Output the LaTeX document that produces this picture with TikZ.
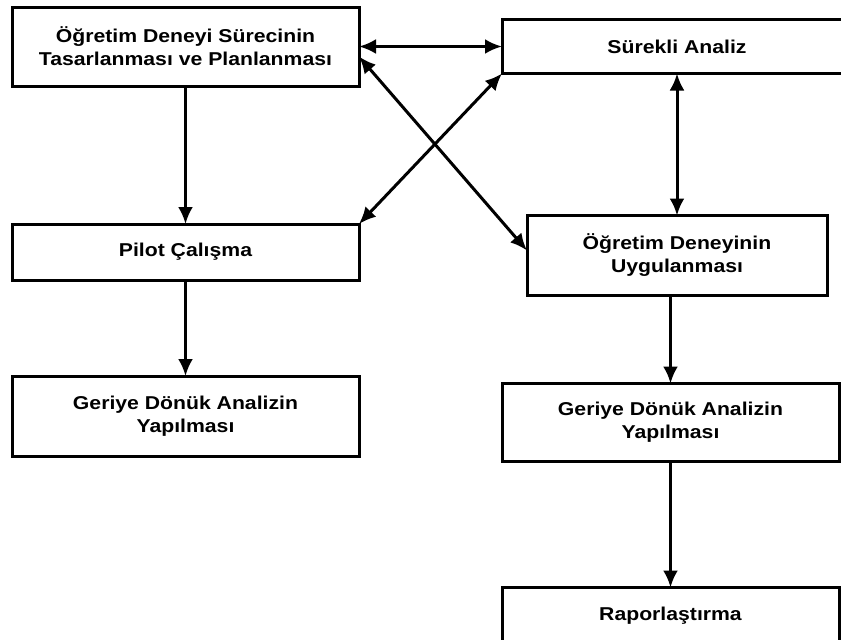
\documentclass[tikz,border=0pt]{standalone}
\usepackage{fontspec}
\newfontfamily\boxfont{Liberation Sans}[FakeStretch=1.14]
\usetikzlibrary{arrows.meta,positioning}

\begin{document}
\begin{tikzpicture}[x=1pt, y=-1pt,
                    box/.style={draw, rectangle, line width=3pt, minimum width=347pt,
                                minimum height=56pt, inner sep=0pt, outer sep=0pt, align=center,
                                font=\boxfont\bfseries\fontsize{18.6}{23}\selectfont},
                    line/.style={draw, line width=3pt, -{Latex[length=17pt,width=15pt]}},
                    both/.style={line, {Latex[length=17pt,width=15pt]}-{Latex[length=17pt,width=15pt]}}]
    \useasboundingbox (0,0) rectangle (841,640);

    % Nodes
    \node [box, minimum height=79pt] at (185.5,46.5)           (plan)     {Öğretim Deneyi Sürecinin\\Tasarlanması ve Planlanması};
    \node [box, minimum width=350pt, minimum height=54pt,
           right=143pt of plan]                                (analiz)   {Sürekli Analiz};
    \node [box, below=138pt of plan]                           (pilot)    {Pilot Çalışma};
    \node [box, minimum height=80pt, below=96pt of pilot]      (geriye1)  {Geriye Dönük Analizin\\Yapılması};
    \node [box, minimum width=300pt, minimum height=80pt,
           below=142pt of analiz]                              (uygulama) {Öğretim Deneyinin\\Uygulanması};
    \node [box, minimum width=337pt, minimum height=78pt,
           below=88pt of uygulama, xshift=-6.5pt]              (geriye2)  {Geriye Dönük Analizin\\Yapılması};
    \node [box, minimum width=337pt, below=126pt of geriye2]   (rapor)    {Raporlaştırma};

    % Paths
    \path [both] (plan.east) -- (analiz.west);
    \path [both] (analiz.south west) -- (pilot.north east);
    \path [both] ([yshift=-10pt]plan.east) -- ([yshift=5pt]uygulama.west);
    \path [line] (plan) -- (pilot);
    \path [line] (pilot) -- (geriye1);
    \path [both] (analiz) -- (uygulama);
    \path [line] (uygulama.south -| geriye2.north) -- (geriye2);
    \path [line] (geriye2) -- (rapor);
\end{tikzpicture}
\end{document}
